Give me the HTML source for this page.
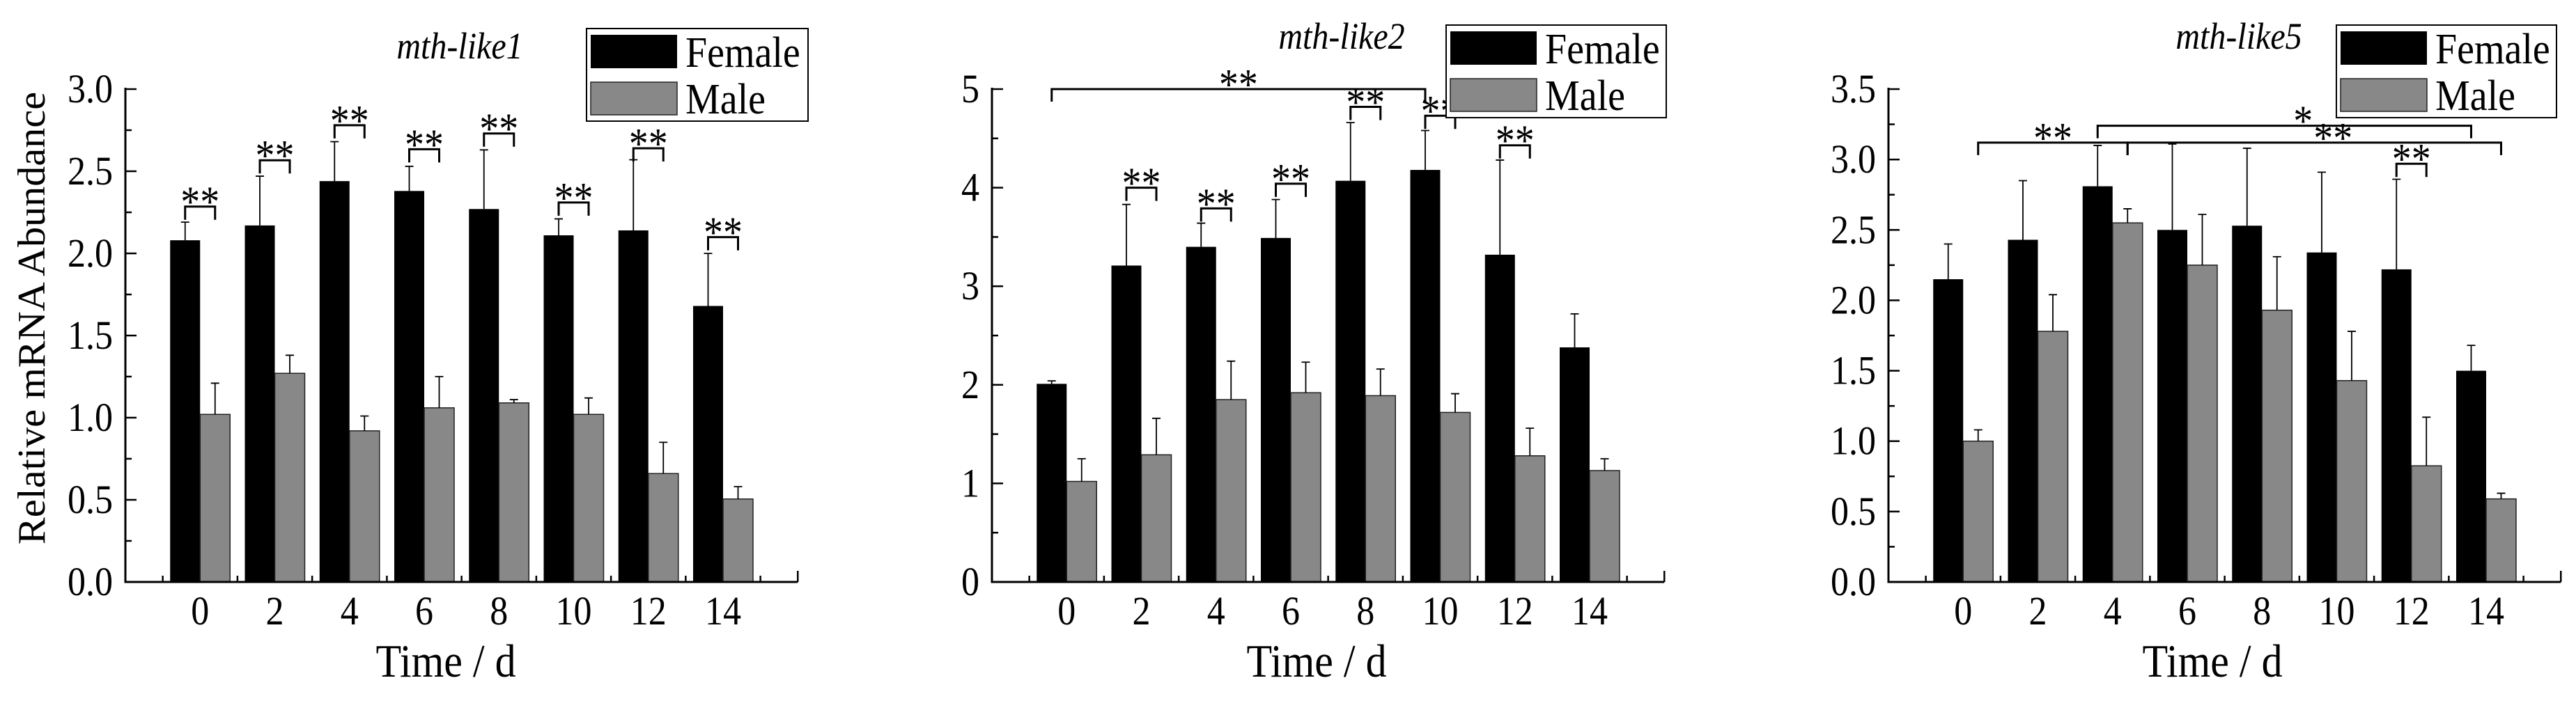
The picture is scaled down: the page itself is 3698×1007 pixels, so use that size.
<!DOCTYPE html>
<html><head><meta charset="utf-8"><style>
html,body{margin:0;padding:0;background:#fff;}
svg{display:block;font-family:"Liberation Serif",serif;}
</style></head><body>
<svg id="chart" width="3698" height="1007" viewBox="0 0 3698 1007" xmlns="http://www.w3.org/2000/svg"></svg>
<script>
const categories = ["0","2","4","6","8","10","12","14"];
const female1 = [2.08,2.17,2.44,2.38,2.27,2.11,2.14,1.68];
const female1Err = [2.19,2.47,2.68,2.53,2.63,2.21,2.57,2.00];
const male1 = [1.02,1.27,0.92,1.06,1.09,1.02,0.66,0.505];
const male1Err = [1.21,1.38,1.01,1.25,1.11,1.12,0.85,0.58];
const female2 = [2.01,3.21,3.40,3.49,4.07,4.18,3.32,2.38];
const female2Err = [2.04,3.83,3.64,3.88,4.66,4.58,4.28,2.72];
const male2 = [1.02,1.29,1.85,1.92,1.89,1.72,1.28,1.13];
const male2Err = [1.25,1.66,2.24,2.23,2.16,1.91,1.56,1.25];
const female5 = [2.15,2.43,2.81,2.50,2.53,2.34,2.22,1.50];
const female5Err = [2.40,2.85,3.10,3.11,3.08,2.91,2.86,1.68];
const male5 = [1.00,1.78,2.55,2.25,1.93,1.43,0.825,0.59];
const male5Err = [1.08,2.04,2.65,2.61,2.31,1.78,1.17,0.63];
const yTicks1 = ["0.0","0.5","1.0","1.5","2.0","2.5","3.0"];
const yTicks2 = ["0","1","2","3","4","5"];
const yTicks5 = ["0.0","0.5","1.0","1.5","2.0","2.5","3.0","3.5"];
// pair brackets: [groupIndex, bracketTopValue, label]
const sig1 = [[0,2.285,"**"],[1,2.567,"**"],[2,2.78,"**"],[3,2.634,"**"],[4,2.73,"**"],[5,2.31,"**"],[6,2.64,"**"],[7,2.099,"**"]];
const sig2 = [[1,4.0,"**"],[2,3.79,"**"],[3,4.04,"**"],[4,4.82,"**"],[5,4.73,"**"],[6,4.43,"**"]];
const sig5 = [[6,2.97,"**"]];
// span brackets: [fromGroup, fromSeries(0 female,1 male), toGroup, toSeries, topValue, label, labelFrac]
const span2 = [[0,0,5,0,5.0,"**",0.5]];
const span5 = [[0,1,2,1,3.12,"**",0.5],[2,0,7,0,3.24,"*",0.55],[2,1,7,1,3.12,"**",0.55]];

const NS="http://www.w3.org/2000/svg";
const svg=document.getElementById('chart');
function mk(tag,attrs,parent){const e=document.createElementNS(NS,tag);for(const k in attrs)e.setAttribute(k,attrs[k]);(parent||svg).appendChild(e);return e;}
function txt(parent,x,y,str,size,anchor,extra){
  const a={x:0,y:0,'text-anchor':anchor,'font-size':size,transform:`translate(${x},${y}) scale(1,1.12)`};
  for(const k in (extra||{}))a[k]=extra[k];
  const t=mk('text',a,parent);t.textContent=str;return t;
}

const TOP=128, BOT=836, SLOT=107.25, BW=43;
function drawPanel(p){
  const g=mk('g',{});
  
  
  const y=v=>BOT-(v/p.max)*(BOT-TOP);
  const xc=i=>p.ax+SLOT*(i+1);
  const xs=(i,s)=>xc(i)+(s===0?-BW/2:BW/2);
  for(let i=0;i<categories.length;i++){
    const fb=mk('rect',{x:xc(i)-BW,y:y(p.f[i]),width:BW,height:BOT-y(p.f[i]),fill:'#000'},g);
    
    
    const mb=mk('rect',{x:xc(i),y:y(p.m[i]),width:BW,height:BOT-y(p.m[i]),fill:'#888',stroke:'#222','stroke-width':1.5},g);
    
    
    [[0,p.f[i],p.fe[i]],[1,p.m[i],p.me[i]]].forEach(([s,v,e])=>{
      const eg=mk('path',{d:`M${xs(i,s)} ${y(v)}V${y(e)}M${xs(i,s)-6} ${y(e)}H${xs(i,s)+6}`,stroke:'#000','stroke-width':1.8,fill:'none'},g);
      
      
    });
  }
  const ax=mk('path',{d:`M${p.ax} ${TOP-2}V${BOT}H${p.ax+SLOT*9}`,stroke:'#000','stroke-width':3,fill:'none'},g);
  
  
  const nMinor=Math.round(p.max/p.minor);
  for(let k=0;k<=nMinor;k++){
    const yy=y(k*p.minor), major=(k%2===0);
    mk('line',{x1:p.ax,x2:p.ax+(major?16:9),y1:yy,y2:yy,stroke:'#000','stroke-width':2.5},g);
  }
  p.ticks.forEach(t=>{
    const tl=txt(g,p.ax-18,y(parseFloat(t))+19,t,52,'end');
    
    
  });
  for(let i=0;i<=8;i++){
    const xx=p.ax+SLOT*(i+0.5);
    mk('line',{x1:xx,x2:xx,y1:BOT,y2:BOT-9,stroke:'#000','stroke-width':2.5},g);
  }
  mk('line',{x1:p.ax+SLOT*9,x2:p.ax+SLOT*9,y1:BOT,y2:BOT-16,stroke:'#000','stroke-width':2.5},g);
  categories.forEach((c,i)=>{
    const tl=txt(g,xc(i),897,c,52,'middle');
    
    
  });
  const xt=txt(g,p.ax+p.xtOff,972,p.xtitle,60,'middle');
  
  
  const tt=txt(g,p.ax+p.titleOff,p.titleY,p.title,48,'middle',{'font-style':'italic'});
  
  
  p.sig.forEach(([i,v,lab])=>{
    const yy=y(v), x1=xs(i,0), x2=xs(i,1);
    const b=mk('path',{d:`M${x1} ${yy+19}V${yy}H${x2}V${yy+19}`,stroke:'#000','stroke-width':3,fill:'none'},g);
    
    
    const st=txt(g,(x1+x2)/2,yy+14,lab,56,'middle');
    
    
  });
  p.span.forEach(([ga,sa,gb,sb,v,lab,frac])=>{
    const yy=y(v), x1=xs(ga,sa), x2=xs(gb,sb);
    const b=mk('path',{d:`M${x1} ${yy+18}V${yy}H${x2}V${yy+18}`,stroke:'#000','stroke-width':3,fill:'none'},g);
    
    
    const st=txt(g,x1+(x2-x1)*frac,yy+14,lab,56,'middle');
    
    
  });
  const L=p.leg;
  const lg=mk('g',{},g);
  
  
  mk('rect',{x:L[0],y:L[1],width:L[2],height:133,fill:'#fff',stroke:'#000','stroke-width':2},lg);
  mk('rect',{x:L[0]+6,y:L[1]+9,width:124,height:48,fill:'#000'},lg);
  mk('rect',{x:L[0]+6,y:L[1]+77,width:124,height:47,fill:'#888',stroke:'#222','stroke-width':1.5},lg);
  const lf=txt(lg,L[0]+142,L[1]+55,'Female',56,'start');
  
  
  const lm=txt(lg,L[0]+142,L[1]+122,'Male',56,'start');
  
  
}
drawPanel({name:'panel-mth-like1',ax:180,max:3.0,minor:0.25,ticks:yTicks1,f:female1,fe:female1Err,m:male1,me:male1Err,sig:sig1,span:[],title:'mth-like1',titleOff:480,titleY:84,xtitle:'Time / d',xtOff:460,leg:[842,41,318]});
drawPanel({name:'panel-mth-like2',ax:1424,max:5,minor:0.5,ticks:yTicks2,f:female2,fe:female2Err,m:male2,me:male2Err,sig:sig2,span:span2,title:'mth-like2',titleOff:502,titleY:70,xtitle:'Time / d',xtOff:466,leg:[2076,36,316]});
drawPanel({name:'panel-mth-like5',ax:2711,max:3.5,minor:0.25,ticks:yTicks5,f:female5,fe:female5Err,m:male5,me:male5Err,sig:sig5,span:span5,title:'mth-like5',titleOff:503,titleY:70,xtitle:'Time  / d',xtOff:465,leg:[3354,36,316]});
const yt=mk('text',{x:0,y:0,'text-anchor':'middle','font-size':56,transform:'translate(64,457) scale(1,1.04) rotate(-90)'});
yt.textContent='Relative mRNA Abundance';


</script>
</body></html>
